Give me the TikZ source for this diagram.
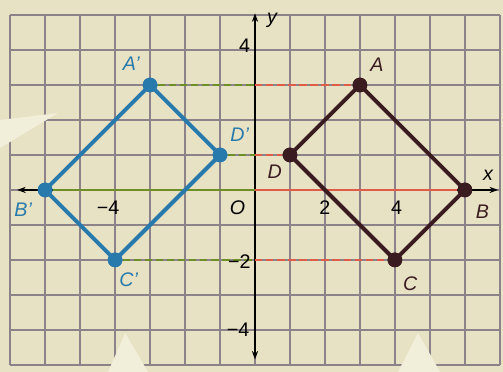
\documentclass[tikz,border=0pt]{standalone}
\usepackage{fontspec}
\setmainfont{Liberation Sans}
\usetikzlibrary{positioning}
\usetikzlibrary{arrows.meta}
\definecolor{paper}{RGB}{232,226,196}
\definecolor{callout}{RGB}{241,238,218}
\definecolor{gridgray}{RGB}{140,130,138}
\definecolor{imgblue}{RGB}{40,122,172}
\definecolor{preblack}{RGB}{58,28,32}
\definecolor{mapgreen}{RGB}{110,142,40}
\definecolor{mapred}{RGB}{222,92,72}

\begin{document}
\begin{tikzpicture}[
  pt/.style={circle, inner sep=0pt, minimum size=0.42cm},
  lbl/.style={inner sep=1pt, font=\fontsize{16}{18}\selectfont\itshape},
  num/.style={inner sep=1pt, font=\fontsize{16}{18}\selectfont},
  side/.style={line width=3.2pt, line cap=round, line join=round},
  link/.style={line width=1.8pt, dash pattern=on 6pt off 3pt},
  axis/.style={line width=1.2pt, {Stealth[length=7pt,width=5pt]}-{Stealth[length=7pt,width=5pt]}}
]
\useasboundingbox[fill=paper] (-7.29,-5.2) rectangle (7.09,5.43);

% Grid
\draw[gridgray, line width=1.1pt] (-7,-5) grid (7,5);

% Callout pointers
\fill[callout] (-7.29,2.0) -- (-5.63,2.2) -- (-7.29,1.2) -- cycle;
\fill[callout] (-4.2,-5.2) -- (-3.71,-4.09) -- (-3.06,-5.2) -- cycle;
\fill[callout] (4.09,-5.2) -- (4.66,-4.09) -- (5.29,-5.2) -- cycle;

% Axes
\coordinate (xl) at (-6.8,0);
\coordinate (xr) at (6.95,0);
\coordinate (yb) at (0,-4.85);
\coordinate (yt) at (0,5.05);
\draw[axis] (xl) -- (xr);
\draw[axis] (yb) -- (yt);

% Points
\node[pt, fill=preblack] (A) at (3,3)  {};
\node[pt, fill=preblack] (B) at (6,0)  {};
\node[pt, fill=preblack] (C) at (4,-2) {};
\node[pt, fill=preblack] (D) at (1,1)  {};
\node[pt, fill=imgblue] (A') at (-3,3)  {};
\node[pt, fill=imgblue] (B') at (-6,0)  {};
\node[pt, fill=imgblue] (C') at (-4,-2) {};
\node[pt, fill=imgblue] (D') at (-1,1)  {};

% Crossing points on the y-axis
\coordinate (ma) at (0,3);
\coordinate (mb) at (0,0);
\coordinate (mc) at (0,-2);
\coordinate (md) at (0,1);

% Matching lines
\draw[link, mapgreen] (A') -- (ma);
\draw[link, mapred]   (ma) -- (A);
\draw[line width=1.6pt, mapgreen] (B') -- (mb);
\draw[line width=1.6pt, mapred]   (mb) -- (B);
\draw[link, mapgreen] (C') -- (mc);
\draw[link, mapred]   (mc) -- (C);
\draw[link, mapgreen] (D') -- (md);
\draw[link, mapred]   (md) -- (D);

% Quadrilaterals
\draw[side, preblack] (A.center) -- (B.center) -- (C.center) -- (D.center) -- cycle;
\draw[side, imgblue] (A'.center) -- (B'.center) -- (C'.center) -- (D'.center) -- cycle;
\foreach \p in {A,B,C,D} \node[pt, fill=preblack] at (\p) {};
\foreach \p in {A',B',C',D'} \node[pt, fill=imgblue] at (\p) {};

% Vertex labels
\node[lbl, preblack, above right=0.2cm and 0.1cm of A] (la) {A};
\node[lbl, preblack, below right=0.22cm and 0.12cm of B] (lb) {B};
\node[lbl, preblack, below right=0.28cm and 0.04cm of C] (lc) {C};
\node[lbl, preblack, below left=0.1cm and 0.04cm of D] (ld) {D};
\node[lbl, imgblue, above left=0.22cm and 0.1cm of A'] (la') {A'};
\node[lbl, imgblue, below left=0.18cm and 0.18cm of B'] (lb') {B'};
\node[lbl, imgblue, below right=0.18cm and -0.07cm of C'] (lc') {C'};
\node[lbl, imgblue, above right=0.18cm and 0.1cm of D'] (ld') {D'};

% Axis labels
\node[lbl] (lx) at (6.66,0.43) {x};
\node[lbl] (ly) at (0.49,4.86) {y};
\node[lbl] (lo) at (-0.5,-0.5) {O};
\node[num] (ty4) at (-0.3,4.12) {4};
\node[num] (tym2) at (-0.45,-2.04) {−2};
\node[num] (tym4) at (-0.48,-4.0) {−4};
\node[num] (txm4) at (-4.2,-0.5) {−4};
\node[num] (tx2) at (2,-0.5) {2};
\node[num] (tx4) at (4.05,-0.5) {4};

\end{tikzpicture}
\end{document}
